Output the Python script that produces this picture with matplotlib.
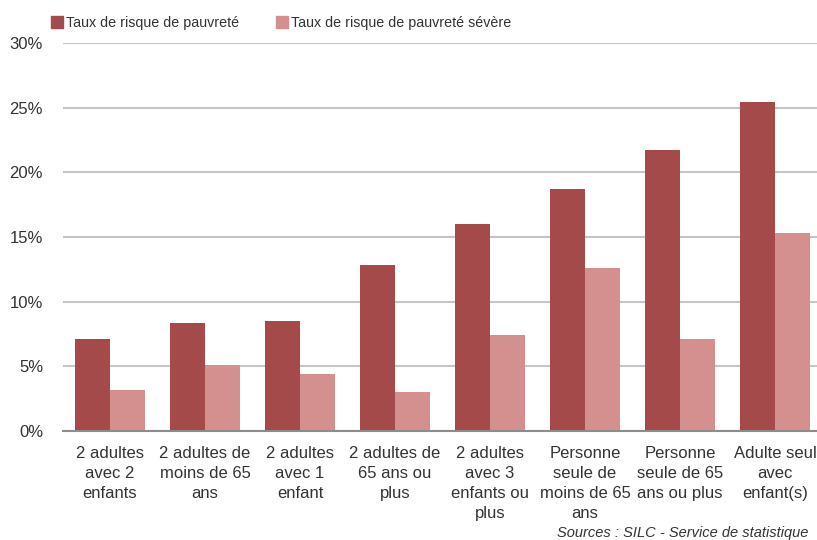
import matplotlib
matplotlib.use("Agg")
import matplotlib.pyplot as plt
import numpy as np
from matplotlib.patches import Patch

categories = ["2 adultes\navec 2\nenfants", "2 adultes de\nmoins de 65\nans", "2 adultes\navec 1\nenfant",
              "2 adultes de\n65 ans ou\nplus", "2 adultes\navec 3\nenfants ou\nplus",
              "Personne\nseule de\nmoins de 65\nans", "Personne\nseule de 65\nans ou plus",
              "Adulte seul\navec\nenfant(s)"]
pauvrete = [7.1, 8.35, 8.5, 12.8, 16.0, 18.75, 21.7, 25.4]
pauvrete_severe = [3.2, 5.1, 4.4, 3.0, 7.4, 12.6, 7.15, 15.3]
series_names = ["Taux de risque de pauvreté", "Taux de risque de pauvreté sévère"]
yticks = [0, 5, 10, 15, 20, 25, 30]

plt.rcParams['font.family'] = ['Liberation Sans', 'DejaVu Sans']
dark = "#A44A4A"
light = "#D48F8F"
txt = "#333333"

fig = plt.figure(figsize=(8.17, 5.40), dpi=100)
ax = fig.add_axes([62.5/817, 1-431/540, 760/817, (431-43)/540])
x = np.arange(len(categories))
w = 35/95
ax.bar(x - w/2, pauvrete, width=w, color=dark, zorder=3)
ax.bar(x + w/2, pauvrete_severe, width=w, color=light, zorder=3)
ax.set_xlim(-0.5, len(categories)-0.5)
ax.set_ylim(0, 30)
ax.set_yticks(yticks)
ax.set_yticklabels([f"{v}%" for v in yticks], fontsize=12, color=txt)
ax.set_xticks(x)
ax.set_xticklabels(categories, fontsize=12, color=txt, linespacing=1.4, va="top")
ax.tick_params(axis="both", length=0)
ax.tick_params(axis="x", pad=11)
ax.tick_params(axis="y", pad=14)
for s in ["top", "right", "left"]:
    ax.spines[s].set_visible(False)
ax.spines["bottom"].set_color("#8C8C8C")
ax.spines["bottom"].set_linewidth(1.5)
ax.spines["bottom"].set_zorder(4)
ax.yaxis.grid(True, color="#C4C4C4", linewidth=1.5, zorder=0)
ax.set_axisbelow(True)

handles = [Patch(color=dark), Patch(color=light)]
fig.legend(handles, series_names, loc="upper left", bbox_to_anchor=(38/817, 1-3/540), ncol=2,
           frameon=False, fontsize=10.3, handlelength=0.85, handleheight=0.85, handletextpad=0.2,
           columnspacing=2.6, labelcolor=txt)
fig.text(808/817, 1-533/540, "Sources : SILC - Service de statistique", ha="right", va="center",
         fontsize=10.5, style="italic", color=txt)
fig.savefig("out.png", dpi=100)
